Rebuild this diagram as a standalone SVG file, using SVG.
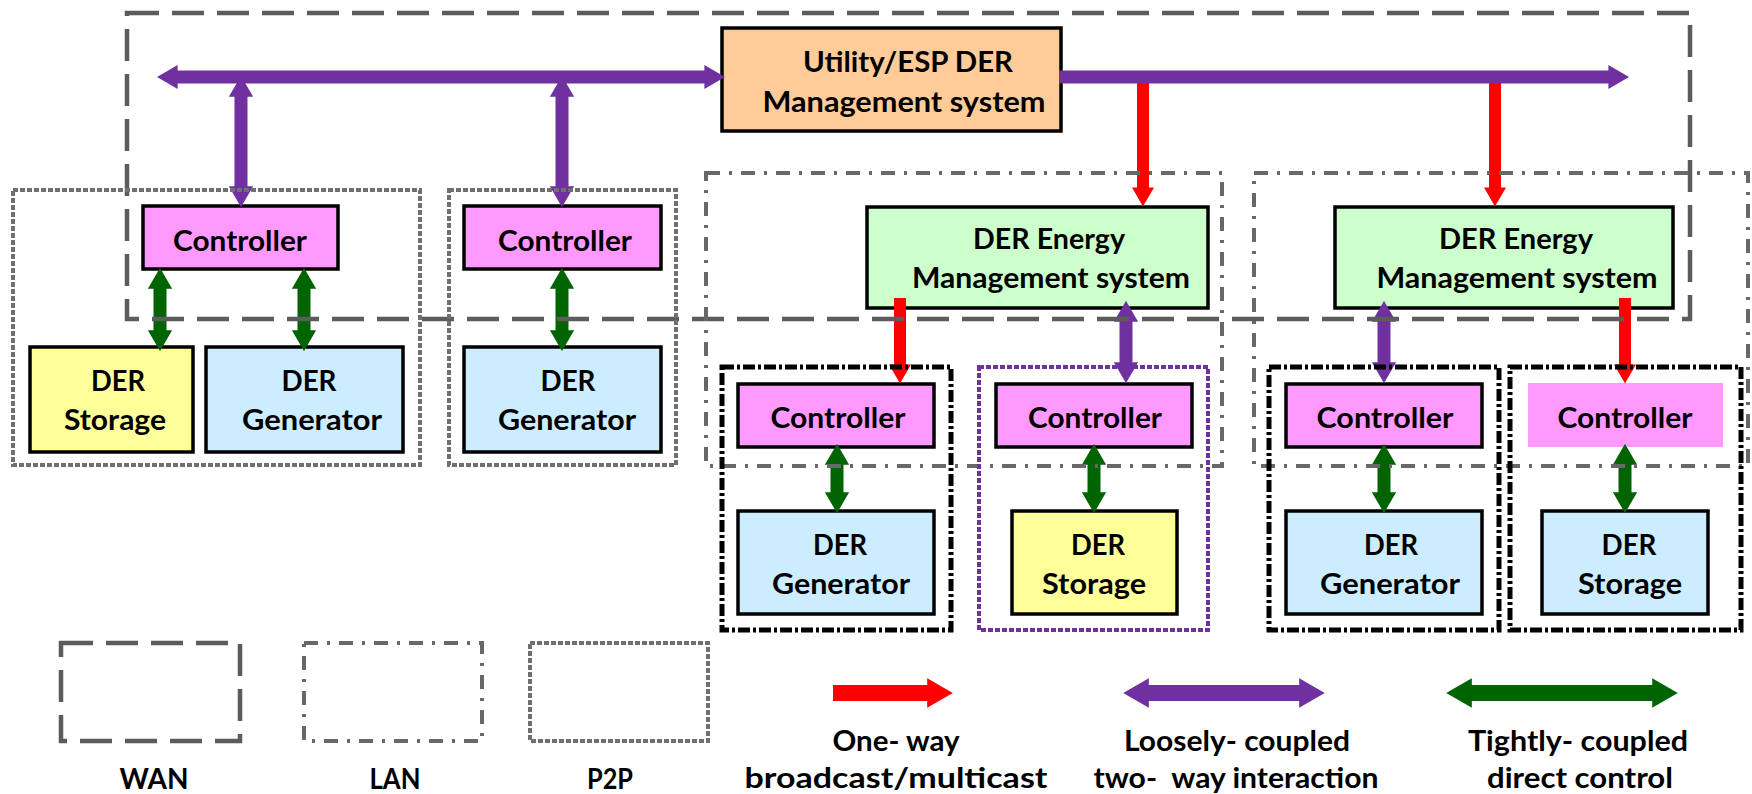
<svg xmlns="http://www.w3.org/2000/svg" width="1752" height="794" viewBox="0 0 1752 794">
  <style>
    .t { font-family: Lato, "Liberation Sans", sans-serif; font-weight: 700; font-size: 29px; fill: #000; text-anchor: middle; white-space: pre; }
    .box { stroke: #000; stroke-width: 3.5; }
    .ctl { fill: #FF99FF; }
    .gen { fill: #CCECFF; }
    .sto { fill: #FFFF99; }
    .ems { fill: #CCFFCC; }
    .esp { fill: #FFCC99; }
    .zone { fill: none; }
    .wan { stroke: #5c5c5c; stroke-width: 4.5; stroke-dasharray: 32 13; }
    .lan { stroke: #686868; stroke-width: 4; stroke-dasharray: 14 9 3 9; }
    .p2p { stroke: #707070; stroke-width: 4; stroke-dasharray: 5 2; }
    .p2pk { stroke: #000; stroke-width: 5; stroke-dasharray: 12 3 3 3; }
    .p2pv { stroke: #7030A0; stroke-width: 4; stroke-dasharray: 5 2; }
    .red { stroke: #FF0000; stroke-width: 12; fill: none; marker-end: url(#hRed); }
    .pur { stroke: #7030A0; stroke-width: 13; fill: none; marker-start: url(#hPur); marker-end: url(#hPur); }
    .pur1 { stroke: #7030A0; stroke-width: 13; fill: none; marker-end: url(#hPur); }
    .grn { stroke: #006400; stroke-width: 13; fill: none; marker-start: url(#hGrn); marker-end: url(#hGrn); }
  </style>
  <defs>
    <!-- arrowheads sized in stroke-width units; the line ends at the head's base -->
    <marker id="hRed" viewBox="0 0 1.6 1.85" refX="0.05" refY="0.925" markerWidth="1.6" markerHeight="1.85" orient="auto-start-reverse">
      <path d="M0,0 L1.6,0.925 L0,1.85 z" fill="#FF0000"/>
    </marker>
    <marker id="hPur" viewBox="0 0 1.6 1.85" refX="0.05" refY="0.925" markerWidth="1.6" markerHeight="1.85" orient="auto-start-reverse">
      <path d="M0,0 L1.6,0.925 L0,1.85 z" fill="#7030A0"/>
    </marker>
    <marker id="hGrn" viewBox="0 0 1.6 1.85" refX="0.05" refY="0.925" markerWidth="1.6" markerHeight="1.85" orient="auto-start-reverse">
      <path d="M0,0 L1.6,0.925 L0,1.85 z" fill="#006400"/>
    </marker>
  </defs>

  <rect width="1752" height="794" fill="#fff"/>

  <!-- nodes -->
  <g id="utility-esp">
    <rect class="box esp" x="722" y="28" width="339" height="103"/>
    <text class="t" x="908" y="72" textLength="210" lengthAdjust="spacingAndGlyphs">Utility/ESP DER</text>
    <text class="t" x="904" y="112" textLength="283" lengthAdjust="spacingAndGlyphs">Management system</text>
  </g>

  <g id="controller-1">
    <rect class="box ctl" x="143" y="206" width="195" height="63"/>
    <text class="t" x="240" y="251" textLength="134" lengthAdjust="spacingAndGlyphs">Controller</text>
  </g>
  <g id="controller-2">
    <rect class="box ctl" x="464" y="206" width="197" height="63"/>
    <text class="t" x="565" y="251" textLength="134" lengthAdjust="spacingAndGlyphs">Controller</text>
  </g>
  <g id="der-storage-1">
    <rect class="box sto" x="30" y="347" width="163" height="105"/>
    <text class="t" x="118" y="391" textLength="54" lengthAdjust="spacingAndGlyphs">DER</text>
    <text class="t" x="115" y="430" textLength="102" lengthAdjust="spacingAndGlyphs">Storage</text>
  </g>
  <g id="der-generator-1">
    <rect class="box gen" x="206" y="347" width="197" height="105"/>
    <text class="t" x="309" y="391" textLength="55" lengthAdjust="spacingAndGlyphs">DER</text>
    <text class="t" x="312" y="430" textLength="140" lengthAdjust="spacingAndGlyphs">Generator</text>
  </g>
  <g id="der-generator-2">
    <rect class="box gen" x="464" y="347" width="197" height="105"/>
    <text class="t" x="568" y="391" textLength="55" lengthAdjust="spacingAndGlyphs">DER</text>
    <text class="t" x="567" y="430" textLength="138" lengthAdjust="spacingAndGlyphs">Generator</text>
  </g>

  <g id="der-ems-1">
    <rect class="box ems" x="867" y="207" width="341" height="101"/>
    <text class="t" x="1049" y="249" textLength="152" lengthAdjust="spacingAndGlyphs">DER Energy</text>
    <text class="t" x="1051" y="288" textLength="278" lengthAdjust="spacingAndGlyphs">Management system</text>
  </g>
  <g id="der-ems-2">
    <rect class="box ems" x="1335" y="207" width="338" height="101"/>
    <text class="t" x="1516" y="249" textLength="154" lengthAdjust="spacingAndGlyphs">DER Energy</text>
    <text class="t" x="1517" y="288" textLength="281" lengthAdjust="spacingAndGlyphs">Management system</text>
  </g>

  <g id="controller-3">
    <rect class="box ctl" x="738" y="384" width="196" height="63"/>
    <text class="t" x="838" y="428" textLength="135" lengthAdjust="spacingAndGlyphs">Controller</text>
  </g>
  <g id="controller-4">
    <rect class="box ctl" x="996" y="384" width="196" height="63"/>
    <text class="t" x="1095" y="428" textLength="134" lengthAdjust="spacingAndGlyphs">Controller</text>
  </g>
  <g id="controller-5">
    <rect class="box ctl" x="1286" y="384" width="196" height="63"/>
    <text class="t" x="1385" y="428" textLength="137" lengthAdjust="spacingAndGlyphs">Controller</text>
  </g>
  <g id="controller-6">
    <rect class="ctl" x="1528" y="383" width="195" height="64"/>
    <text class="t" x="1625" y="428" textLength="135" lengthAdjust="spacingAndGlyphs">Controller</text>
  </g>

  <g id="der-generator-3">
    <rect class="box gen" x="738" y="511" width="196" height="103"/>
    <text class="t" x="840" y="555" textLength="54" lengthAdjust="spacingAndGlyphs">DER</text>
    <text class="t" x="841" y="594" textLength="138" lengthAdjust="spacingAndGlyphs">Generator</text>
  </g>
  <g id="der-storage-2">
    <rect class="box sto" x="1012" y="511" width="165" height="103"/>
    <text class="t" x="1098" y="555" textLength="54" lengthAdjust="spacingAndGlyphs">DER</text>
    <text class="t" x="1094" y="594" textLength="104" lengthAdjust="spacingAndGlyphs">Storage</text>
  </g>
  <g id="der-generator-4">
    <rect class="box gen" x="1286" y="511" width="196" height="103"/>
    <text class="t" x="1391" y="555" textLength="54" lengthAdjust="spacingAndGlyphs">DER</text>
    <text class="t" x="1390" y="594" textLength="140" lengthAdjust="spacingAndGlyphs">Generator</text>
  </g>
  <g id="der-storage-3">
    <rect class="box gen" x="1542" y="511" width="166" height="103"/>
    <text class="t" x="1629" y="555" textLength="55" lengthAdjust="spacingAndGlyphs">DER</text>
    <text class="t" x="1630" y="594" textLength="104" lengthAdjust="spacingAndGlyphs">Storage</text>
  </g>

  <!-- connectors -->
  <g id="connectors">
    <!-- bus drops to the left controllers (top heads sit under the bus) -->
    <line class="pur" x1="241" y1="96" x2="241" y2="187"/>
    <line class="pur" x1="562" y1="96" x2="562" y2="187"/>
    <!-- broadcast drops to the energy management systems -->
    <line class="red" x1="1143" y1="72" x2="1143" y2="188"/>
    <line class="red" x1="1495" y1="72" x2="1495" y2="188"/>
    <!-- WAN bus -->
    <line class="pur" x1="177" y1="77" x2="705" y2="77"/>
    <line class="pur1" x1="1059" y1="77" x2="1609" y2="77"/>
    <!-- controller to DER, top row -->
    <line class="grn" x1="160" y1="288" x2="160" y2="331"/>
    <line class="grn" x1="304" y1="288" x2="304" y2="331"/>
    <line class="grn" x1="562" y1="288" x2="562" y2="331"/>
    <!-- EMS to controllers -->
    <line class="red" x1="900" y1="298" x2="900" y2="365"/>
    <line class="pur" x1="1126" y1="321" x2="1126" y2="363"/>
    <line class="pur" x1="1384" y1="321" x2="1384" y2="363"/>
    <line class="red" x1="1625" y1="298" x2="1625" y2="365"/>
    <!-- controller to DER, bottom row -->
    <line class="grn" x1="837" y1="464" x2="837" y2="493"/>
    <line class="grn" x1="1094" y1="464" x2="1094" y2="493"/>
    <line class="grn" x1="1384" y1="464" x2="1384" y2="493"/>
    <line class="grn" x1="1625" y1="464" x2="1625" y2="493"/>
  </g>

  <!-- network zones -->
  <g id="zones">
    <rect class="zone wan" x="127" y="13" width="1563" height="306"/>
    <rect class="zone p2p" x="13" y="190" width="407" height="275"/>
    <rect class="zone p2p" x="449" y="190" width="227" height="275"/>
    <rect class="zone lan" x="706" y="173" width="516" height="293"/>
    <rect class="zone lan" x="1254" y="173" width="494" height="293"/>
    <rect class="zone p2pk" x="722" y="367" width="229" height="263"/>
    <rect class="zone p2pv" x="979" y="367" width="229" height="263"/>
    <rect class="zone p2pk" x="1269" y="367" width="230" height="263"/>
    <rect class="zone p2pk" x="1510" y="367" width="231" height="263"/>
  </g>

  <!-- legend -->
  <g id="legend">
    <rect class="zone wan" x="61" y="643" width="179" height="98"/>
    <rect class="zone lan" x="304" y="643" width="178" height="98"/>
    <rect class="zone p2p" x="530" y="643" width="178" height="98"/>
    <text class="t" x="154" y="789" textLength="69" lengthAdjust="spacingAndGlyphs">WAN</text>
    <text class="t" x="395" y="789" textLength="51" lengthAdjust="spacingAndGlyphs">LAN</text>
    <text class="t" x="610" y="789" textLength="46" lengthAdjust="spacingAndGlyphs">P2P</text>

    <line class="red" style="stroke-width:16" x1="833" y1="693" x2="928" y2="693"/>
    <line class="pur" style="stroke-width:16" x1="1148" y1="693" x2="1300" y2="693"/>
    <line class="grn" style="stroke-width:16" x1="1471" y1="693" x2="1653" y2="693"/>

    <text class="t" x="896" y="751" textLength="127" lengthAdjust="spacingAndGlyphs">One- way</text>
    <text class="t" x="896" y="788" textLength="303" lengthAdjust="spacingAndGlyphs">broadcast/multicast</text>
    <text class="t" x="1237" y="751" textLength="226" lengthAdjust="spacingAndGlyphs">Loosely- coupled</text>
    <text class="t" x="1236" y="788" textLength="285" lengthAdjust="spacingAndGlyphs">two-  way interaction</text>
    <text class="t" x="1578" y="751" textLength="220" lengthAdjust="spacingAndGlyphs">Tightly- coupled</text>
    <text class="t" x="1580" y="788" textLength="186" lengthAdjust="spacingAndGlyphs">direct control</text>
  </g>
</svg>
